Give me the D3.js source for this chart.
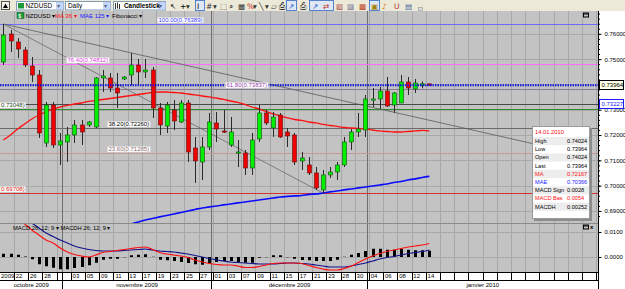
<!DOCTYPE html>
<html><head><meta charset="utf-8">
<script src="https://cdn.jsdelivr.net/npm/d3@7"></script>
<style>
body{margin:0;background:#fff;overflow:hidden}
svg{display:block;font-family:"Liberation Sans",Arial,sans-serif}
</style></head><body>
<div id="chart"></div>
<script>
// ---- data ----
var dates = ["2009-10-20","2009-10-21","2009-10-22","2009-10-23","2009-10-26","2009-10-27","2009-10-28","2009-10-29","2009-10-30",
  "2009-11-02","2009-11-03","2009-11-04","2009-11-05","2009-11-06","2009-11-09","2009-11-10","2009-11-11","2009-11-12","2009-11-13",
  "2009-11-16","2009-11-17","2009-11-18","2009-11-19","2009-11-20","2009-11-23","2009-11-24","2009-11-25","2009-11-26","2009-11-27","2009-11-30",
  "2009-12-01","2009-12-02","2009-12-03","2009-12-04","2009-12-07","2009-12-08","2009-12-09","2009-12-10","2009-12-11",
  "2009-12-14","2009-12-15","2009-12-16","2009-12-17","2009-12-18","2009-12-21","2009-12-22","2009-12-23","2009-12-24",
  "2009-12-28","2009-12-29","2009-12-30","2009-12-31",
  "2010-01-04","2010-01-05","2010-01-06","2010-01-07","2010-01-08","2010-01-11","2010-01-12","2010-01-13","2010-01-14"];

var open = [0.74887,0.75994,0.75678,0.75361,0.74729,0.74373,0.71685,0.73187,0.71606,0.71725,
  0.72002,0.72397,0.72397,0.72318,0.74255,0.74255,0.73859,0.74215,0.74373,0.74768,
  0.74492,0.74571,0.73069,0.72357,0.72990,0.72516,0.73267,0.71488,0.70934,0.71527,
  0.72476,0.72160,0.71606,0.71290,0.71290,0.70697,0.71844,0.72871,0.72278,0.72792,
  0.72120,0.72002,0.70974,0.70816,0.70500,0.69828,0.70421,0.70539,0.70816,0.71725,
  0.72120,0.72199,0.73385,0.73425,0.73741,0.73187,0.73267,0.74097,0.73820,0.73960,
  0.74024];
var high = [0.76389,0.76152,0.75836,0.75480,0.75085,0.74571,0.73306,0.73306,0.72081,0.72318,
  0.72595,0.72595,0.72555,0.74294,0.74571,0.74452,0.74452,0.74334,0.75243,0.75006,
  0.75006,0.74689,0.73267,0.73306,0.73385,0.73385,0.73385,0.71923,0.71923,0.72871,
  0.72911,0.72990,0.72713,0.71804,0.71409,0.72081,0.73187,0.72990,0.72911,0.72871,
  0.72278,0.72081,0.71330,0.71132,0.70737,0.70618,0.70737,0.70934,0.71923,0.72239,
  0.72871,0.73583,0.73859,0.73899,0.74294,0.73701,0.74373,0.74294,0.74215,0.74120,
  0.74024];
var low = [0.74768,0.75282,0.75045,0.74689,0.74097,0.71883,0.71527,0.71488,0.70816,0.70934,
  0.71685,0.71606,0.72318,0.72278,0.73701,0.73701,0.73069,0.74176,0.73978,0.73978,
  0.74255,0.72674,0.72002,0.72081,0.72199,0.72476,0.70934,0.70105,0.70223,0.71409,
  0.71725,0.72081,0.71527,0.70737,0.70421,0.70421,0.71725,0.72397,0.71923,0.71883,
  0.71527,0.70816,0.70618,0.70421,0.69828,0.69708,0.70302,0.70223,0.70737,0.71409,
  0.71923,0.71923,0.73108,0.73029,0.73108,0.72871,0.73267,0.73583,0.73662,0.73850,
  0.73964];
var close = [0.75954,0.75717,0.75401,0.74768,0.74373,0.72081,0.73187,0.71606,0.71765,0.72002,
  0.72397,0.72120,0.72516,0.74255,0.74334,0.73859,0.73662,0.74294,0.74768,0.74492,
  0.74571,0.73069,0.72397,0.73187,0.72555,0.73267,0.71330,0.70974,0.71527,0.72516,
  0.72239,0.72120,0.72120,0.71330,0.70697,0.71804,0.72871,0.72476,0.72713,0.71923,
  0.71962,0.70934,0.71092,0.70500,0.69907,0.70421,0.70539,0.70816,0.71725,0.72120,
  0.72239,0.73425,0.73425,0.73741,0.73148,0.73662,0.74097,0.73859,0.74057,0.74024,
  0.73964];

var ma36 = [0.71804,0.72002,0.72239,0.72436,0.72634,0.72792,0.72911,0.73029,0.73108,0.73168,
  0.73227,0.73266,0.73326,0.73365,0.73405,0.73444,0.73484,0.73523,0.73563,0.73602,
  0.73642,0.73681,0.73701,0.73701,0.73681,0.73662,0.73622,0.73583,0.73543,0.73504,
  0.73464,0.73405,0.73345,0.73286,0.73207,0.73108,0.73029,0.72931,0.72832,0.72753,
  0.72674,0.72614,0.72575,0.72515,0.72476,0.72417,0.72377,0.72338,0.72298,0.72278,
  0.72259,0.72239,0.72199,0.72160,0.72140,0.72120,0.72120,0.72140,0.72160,0.72180,
  0.72167];

var mae125 = [null,null,null,null,null,null,null,null,null,null,null,null,null,null,null,null,
  0.68326,0.68405,0.68484,0.68563,0.68642,0.68701,0.68761,0.68820,0.68879,0.68938,
  0.68998,0.69057,0.69116,0.69156,0.69195,0.69235,0.69274,0.69314,0.69353,0.69393,
  0.69432,0.69472,0.69511,0.69551,0.69571,0.69591,0.69610,0.69650,0.69670,0.69709,
  0.69749,0.69788,0.69828,0.69867,0.69907,0.69946,0.69986,0.70025,0.70065,0.70124,
  0.70164,0.70223,0.70263,0.70322,0.70366];

var macdBase = [0.0208,0.0180,0.0156,0.0132,0.0108,0.0088,0.0068,0.0056,0.0036,0.0020,
  0.0010,0.0004,0.0000,0.0008,0.0018,0.0022,0.0026,0.0030,0.0034,0.0038,
  0.0040,0.0030,0.0018,0.0012,0.0008,0.0004,-0.0002,-0.0012,-0.0020,-0.0026,
  -0.0030,-0.0032,-0.0032,-0.0036,-0.0042,-0.0042,-0.0038,-0.0032,-0.0026,-0.0024,
  -0.0024,-0.0024,-0.0026,-0.0034,-0.0042,-0.0048,-0.0052,-0.0052,-0.0046,-0.0036,
  -0.0022,-0.0008,0.0004,0.0014,0.0022,0.0028,0.0034,0.0040,0.0044,0.0048,
  0.0054];
var macdSignal = [0.0228,0.0204,0.0180,0.0156,0.0136,0.0116,0.0096,0.0082,0.0068,0.0056,
  0.0044,0.0036,0.0030,0.0026,0.0024,0.0024,0.0024,0.0026,0.0028,0.0030,
  0.0032,0.0028,0.0024,0.0022,0.0020,0.0016,0.0012,0.0006,0.0000,-0.0006,
  -0.0012,-0.0016,-0.0020,-0.0022,-0.0024,-0.0026,-0.0028,-0.0028,-0.0028,-0.0026,
  -0.0024,-0.0024,-0.0026,-0.0028,-0.0032,-0.0036,-0.0040,-0.0040,-0.0040,-0.0036,
  -0.0030,-0.0024,-0.0016,-0.0008,-0.0002,0.0002,0.0008,0.0014,0.0018,0.0022,
  0.0028];
var macdHist = [0.0013,0.0013,0.0009,0.0002,-0.0009,-0.0029,-0.0037,-0.0043,-0.0049,-0.0049,
  -0.0044,-0.0040,-0.0033,-0.0023,-0.0011,-0.0007,-0.0007,-0.0001,0.0007,0.0009,
  0.0011,0.0001,-0.0011,-0.0013,-0.0016,-0.0020,-0.0024,-0.0029,-0.0031,-0.0027,
  -0.0020,-0.0017,-0.0016,-0.0020,-0.0023,-0.0023,-0.0003,-0.0001,0.0007,0.0007,
  -0.0001,-0.0007,-0.0012,-0.0013,-0.0016,-0.0016,-0.0016,-0.0011,0.0001,0.0009,
  0.0016,0.0024,0.0033,0.0033,0.0029,0.0029,0.0033,0.0029,0.0027,0.0027,
  0.00252];

// bottom labels, one per two bars (even bars)
var tickLabels = ["2009","22","26","28","","03","05","09","11","13","17","19","23","25","27",
  "01","03","07","09","11","15","17","21","23","28","30","04","06","08","12","14"];
var monthNames = ["octobre 2009","novembre 2009","décembre 2009","janvier 2010"];

var priceTicks = [0.69,0.70,0.71,0.72,0.73,0.74,0.75,0.76];
var macdTicks = [0.0,0.01];

var fibPct = ["100.00","76.40","61.80","50.00","38.20","23.60","0.00"];
var fibPrice = [0.76389,0.74812,0.73837,0.73048,0.72260,0.71285,0.69708];
var fibColor = ["#6c6cff","#ff6cff","#8a7a9a","#2f8a2f","#6a6a6a","#c49a9a","#d83030"];
var fibText = ["#3a3aff","#e040e0","#9a40b0","#1c4c1c","#000","#8a6a6a","#e02020"];

var lastPrice = 0.73964;
var userLine = 0.73227;
var trendA = [0, 0.76389], trendB = [60, 0.72583];   // bar index, price
var fibDiagA = [0, 0.76389], fibDiagB = [45, 0.69708];

// ---- layout ----
var W = 625, H = 289;
var plotR = 598, mainT = 11, mainB = 223, macdT = 224, macdB = 272, dateB = 280;

var svg = d3.select("#chart").append("svg").attr("width", W).attr("height", H);

var x = d3.scalePoint().domain(dates).range([3.4, 3.4 + 7.1 * (dates.length - 1)]);
var step = x.step();
var xi = function (i) { return x(dates[0]) + i * step; };
var y = d3.scaleLinear().domain([0.69708, 0.76389]).range([193, 24]);
var ym = d3.scaleLinear().domain([0, 0.01]).range([257, 232]);

var defs = svg.append("defs");
defs.append("clipPath").attr("id", "cMain").append("rect").attr("x", 0).attr("y", mainT).attr("width", plotR).attr("height", mainB - mainT);
defs.append("clipPath").attr("id", "cMacd").append("rect").attr("x", 0).attr("y", macdT).attr("width", plotR).attr("height", macdB - macdT);

// backgrounds
svg.append("rect").attr("width", W).attr("height", H).attr("fill", "#fff");
svg.append("rect").attr("x", 0).attr("y", 0).attr("width", W).attr("height", mainT).attr("fill", "#ece9d8");
svg.append("rect").attr("x", 0).attr("y", mainT).attr("width", plotR).attr("height", macdB - mainT).attr("fill", "#c3c3c3");

// vertical grid (every two bars, continuing to the right edge)
var gridX = d3.range(0, 86, 2).map(function (i) { return xi(i) - step / 2; }).filter(function (v) { return v > 0 && v < plotR; });
svg.append("g").selectAll("line").data(gridX).join("line")
  .attr("x1", function (d) { return Math.round(d) + 0.5; }).attr("x2", function (d) { return Math.round(d) + 0.5; })
  .attr("y1", mainT).attr("y2", macdB).attr("stroke", "#a8a8a8");

// horizontal grid
svg.append("g").selectAll("line").data(priceTicks).join("line")
  .attr("x1", 0).attr("x2", plotR).attr("y1", function (d) { return Math.round(y(d)) + 0.5; }).attr("y2", function (d) { return Math.round(y(d)) + 0.5; })
  .attr("stroke", "#a8a8a8");
svg.append("g").selectAll("line").data(macdTicks).join("line")
  .attr("x1", 0).attr("x2", plotR).attr("y1", function (d) { return Math.round(ym(d)) + 0.5; }).attr("y2", function (d) { return Math.round(ym(d)) + 0.5; })
  .attr("stroke", "#a8a8a8");

// month boundaries
var monthEnds = [];
dates.forEach(function (d, i) { if (i < dates.length - 1 && d.slice(0, 7) !== dates[i + 1].slice(0, 7)) monthEnds.push(i); });
var monthX = monthEnds.map(function (i) { return Math.round(xi(i) + 2) + 0.5; });
svg.append("g").selectAll("line").data(monthX).join("line")
  .attr("x1", function (d) { return d; }).attr("x2", function (d) { return d; })
  .attr("y1", mainT).attr("y2", H).attr("stroke", "#6e6e6e");

// panel separator
svg.append("line").attr("x1", 0).attr("x2", plotR).attr("y1", mainB + 0.5).attr("y2", mainB + 0.5).attr("stroke", "#8a8a8a");

// ---- main panel ----
var main = svg.append("g").attr("clip-path", "url(#cMain)");

// fibonacci levels + user line
main.selectAll("line.fib").data(fibPrice).join("line").attr("class", "fib")
  .attr("x1", 0).attr("x2", plotR)
  .attr("y1", function (d) { return Math.round(y(d)) + 0.5; }).attr("y2", function (d) { return Math.round(y(d)) + 0.5; })
  .attr("stroke", function (d, i) { return fibColor[i]; }).attr("stroke-width", 1);
main.append("line").attr("x1", 0).attr("x2", plotR).attr("y1", Math.round(y(userLine)) + 0.5).attr("y2", Math.round(y(userLine)) + 0.5)
  .attr("stroke", "#4a4a4a");

// trend lines
function lineAt(a, b, xEnd) {
  var x1 = xi(a[0]), y1 = y(a[1]), x2 = xi(b[0]), y2 = y(b[1]);
  var k = (y2 - y1) / (x2 - x1);
  return [x1, y1, xEnd, y1 + k * (xEnd - x1)];
}
var t1 = lineAt(trendA, trendB, 560);
main.append("line").attr("x1", t1[0]).attr("y1", t1[1]).attr("x2", t1[2]).attr("y2", t1[3]).attr("stroke", "#5a5a5a").attr("stroke-width", 0.8);
var t2 = lineAt(fibDiagA, fibDiagB, xi(fibDiagB[0]));
main.append("line").attr("x1", t2[0]).attr("y1", t2[1]).attr("x2", t2[2]).attr("y2", t2[3]).attr("stroke", "#6a6a6a").attr("stroke-width", 0.8);

// moving averages
var maLine = d3.line().defined(function (d) { return d[1] != null; }).x(function (d) { return x(d[0]); }).y(function (d) { return y(d[1]); }).curve(d3.curveMonotoneX);
main.append("path").datum(dates.map(function (d, i) { return [d, mae125[i]]; })).attr("d", maLine)
  .attr("fill", "none").attr("stroke", "#0a0aff").attr("stroke-width", 1.7);
main.append("path").datum(dates.map(function (d, i) { return [d, ma36[i]]; })).attr("d", maLine)
  .attr("fill", "none").attr("stroke", "#ff1010").attr("stroke-width", 1.3);

// candles
var bars = dates.map(function (d, i) { return { d: d, o: open[i], h: high[i], l: low[i], c: close[i] }; });
var cg = main.append("g");
cg.selectAll("line").data(bars).join("line")
  .attr("x1", function (b) { return Math.round(x(b.d)) + 0.5; }).attr("x2", function (b) { return Math.round(x(b.d)) + 0.5; })
  .attr("y1", function (b) { return y(b.h); }).attr("y2", function (b) { return y(b.l); })
  .attr("stroke", "#2a2a2a");
cg.selectAll("rect").data(bars).join("rect")
  .attr("x", function (b) { return Math.round(x(b.d)) - 1.5; }).attr("width", 4)
  .attr("y", function (b) { return y(Math.max(b.o, b.c)); })
  .attr("height", function (b) { return Math.max(1.2, Math.abs(y(b.o) - y(b.c))); })
  .attr("fill", function (b) { return b.c >= b.o ? "#00f000" : "#f00000"; })
  .attr("stroke", function (b) { return b.c >= b.o ? "#105010" : "#601010"; }).attr("stroke-width", 0.6);

// last price dotted line
main.append("line").attr("x1", 0).attr("x2", plotR).attr("y1", y(lastPrice)).attr("y2", y(lastPrice))
  .attr("stroke", "#1010e0").attr("stroke-width", 2).attr("stroke-dasharray", "1.5,1");

// fibonacci labels (the two left ones only show their price part in the picture)
var labX = [157, 66, 225, null, 107, 107, null];
var fl = svg.append("g").attr("font-size", 6);
fibPrice.forEach(function (p, i) {
  var txt = labX[i] == null ? d3.format(".5f")(p) + ")" : fibPct[i] + "(" + d3.format(".5f")(p) + ")";
  var g = fl.append("g");
  var t = g.append("text").attr("fill", fibText[i]).attr("y", Math.round(y(p)) - 2).text(txt);
  t.attr("x", labX[i] == null ? 1 : labX[i] + 1.5);
  var bb = t.node().getBBox();
  g.insert("rect", "text").attr("x", Math.max(0, bb.x - 1)).attr("y", bb.y + 0.5).attr("width", bb.width + 2).attr("height", bb.height - 0.5)
    .attr("fill", "#fff").attr("stroke", "#d8d8d8").attr("stroke-width", 0.5);
});

// ---- MACD panel ----
var mp = svg.append("g").attr("clip-path", "url(#cMacd)");
mp.selectAll("rect").data(dates).join("rect")
  .attr("x", function (d) { return Math.round(x(d)) - 1; }).attr("width", 3)
  .attr("y", function (d, i) { return Math.min(ym(0), ym(macdHist[i])); })
  .attr("height", function (d, i) { return Math.abs(ym(macdHist[i]) - ym(0)); })
  .attr("fill", "#000");
var mLine = d3.line().x(function (d) { return x(d[0]); }).y(function (d) { return ym(d[1]); }).curve(d3.curveMonotoneX);
mp.append("path").datum(dates.map(function (d, i) { return [d, macdSignal[i]]; })).attr("d", mLine)
  .attr("fill", "none").attr("stroke", "#14148c").attr("stroke-width", 1.2);
mp.append("path").datum(dates.map(function (d, i) { return [d, macdBase[i]]; })).attr("d", mLine)
  .attr("fill", "none").attr("stroke", "#ff1010").attr("stroke-width", 1.2);

svg.append("text").attr("x", 13).attr("y", 229.5).attr("font-size", 5.8).attr("fill", "#000")
  .text("MACD 26; 12; 9 \u25BE   MACDH 26; 12; 9 \u25BE");

// ---- right axes ----
svg.append("rect").attr("x", plotR).attr("y", mainT).attr("width", W - plotR).attr("height", H - mainT).attr("fill", "#fff");
svg.append("line").attr("x1", plotR + 0.5).attr("x2", plotR + 0.5).attr("y1", mainT).attr("y2", H).attr("stroke", "#000");

// labels hidden behind the last-price tag are left out, as in the picture
var shownTicks = priceTicks.filter(function (p) { return Math.abs(y(p) - y(lastPrice)) > 5; });
var ax = svg.append("g").attr("transform", "translate(" + (plotR + 0.5) + ",0)");
ax.append("g").call(d3.axisRight(y).tickValues(d3.range(0.688, 0.7685, 0.002)).tickSize(1.5).tickFormat(""))
  .call(function (g) { g.select(".domain").remove(); });
ax.append("g").call(d3.axisRight(y).tickValues(priceTicks).tickSize(3).tickFormat(""))
  .call(function (g) { g.select(".domain").remove(); });
ax.append("g").call(d3.axisRight(y).tickValues(shownTicks).tickSize(0).tickPadding(6).tickFormat(d3.format(".5f")))
  .call(function (g) { g.select(".domain").remove(); g.selectAll("text").attr("font-size", 6).attr("font-family", "Liberation Sans"); });
ax.append("g").call(d3.axisRight(ym).tickValues(macdTicks).tickSize(3).tickPadding(3).tickFormat(d3.format(".4f")))
  .call(function (g) { g.select(".domain").remove(); g.selectAll("text").attr("font-size", 6).attr("font-family", "Liberation Sans"); });

// price tags on axis
function tag(p, fill, stroke, color) {
  var g = svg.append("g");
  g.append("rect").attr("x", plotR + 1.5).attr("y", Math.round(y(p)) - 4.5).attr("width", 24).attr("height", 9)
    .attr("fill", fill).attr("stroke", stroke).attr("stroke-width", 1);
  g.append("text").attr("x", plotR + 3.5).attr("y", Math.round(y(p)) + 2.2).attr("font-size", 6).attr("fill", color).text(d3.format(".5f")(p));
}
tag(lastPrice, "#ffffe8", "#000", "#000");
tag(userLine, "#fff", "#1a1aff", "#1a1aff");

// ---- bottom date rows ----
svg.append("rect").attr("x", 0).attr("y", macdB).attr("width", plotR).attr("height", H - macdB).attr("fill", "#fff");
svg.append("line").attr("x1", 0).attr("x2", plotR).attr("y1", macdB + 0.5).attr("y2", macdB + 0.5).attr("stroke", "#000");
svg.append("line").attr("x1", 0).attr("x2", plotR).attr("y1", dateB + 0.5).attr("y2", dateB + 0.5).attr("stroke", "#000");
svg.append("g").selectAll("line").data(gridX).join("line")
  .attr("x1", function (d) { return Math.round(d) + 0.5; }).attr("x2", function (d) { return Math.round(d) + 0.5; })
  .attr("y1", macdB).attr("y2", dateB).attr("stroke", "#000");
svg.append("g").selectAll("line").data(monthX).join("line")
  .attr("x1", function (d) { return d; }).attr("x2", function (d) { return d; })
  .attr("y1", macdB).attr("y2", H).attr("stroke", "#000");

var evenDates = dates.filter(function (d, i) { return i % 2 === 0; });
svg.append("g").attr("transform", "translate(1," + (macdB + 1) + ")")
  .call(d3.axisBottom(x).tickValues(evenDates).tickSize(0).tickPadding(1)
    .tickFormat(function (d, i) { return tickLabels[i]; }))
  .call(function (g) {
    g.select(".domain").remove();
    g.selectAll("text").attr("font-size", 6).attr("font-family", "Liberation Sans");
    g.select(".tick text").attr("text-anchor", "start").attr("x", -x(dates[0]) - 0.5);
  });

var bounds = [0].concat(monthX).concat([plotR]);
svg.append("g").selectAll("text").data(monthNames).join("text")
  .attr("x", function (d, i) { return (bounds[i] + bounds[i + 1]) / 2; }).attr("y", 287)
  .attr("text-anchor", "middle").attr("font-size", 6).text(function (d) { return d; });

// ---- info box ----
var last = dates.length - 1;
var f5 = d3.format(".5f"), f4 = d3.format(".4f");
var infoRows = [
  ["High", f5(high[last]), "#000"], ["Low", f5(low[last]), "#000"], ["Open", f5(open[last]), "#000"],
  ["Last", f5(close[last]), "#000"], ["MA", f5(ma36[last]), "#ff1010"], ["MAE", f5(mae125[last]), "#1a1aff"],
  ["MACD Sign", f4(macdSignal[last]), "#000"], ["MACD Bas", f4(macdBase[last]), "#ff1010"], ["MACDH", f5(macdHist[last]), "#000"]];
var ib = svg.append("g").attr("transform", "translate(532,126)");
ib.append("rect").attr("x", 2).attr("y", 2).attr("width", 58).attr("height", 93).attr("fill", "#8c8c8c");
ib.append("rect").attr("x", 0.5).attr("y", 0.5).attr("width", 57).attr("height", 92).attr("fill", "#fff").attr("stroke", "#9a9a9a");
var dp = dates[last].split("-");
ib.append("text").attr("x", 3).attr("y", 7.5).attr("font-size", 5.8).attr("fill", "#ff1010").text(dp[2] + "." + dp[1] + "." + dp[0]);
infoRows.forEach(function (r, i) {
  var ry = 11 + i * 8.2;
  if (i % 2 === 0) ib.append("rect").attr("x", 1).attr("y", ry).attr("width", 56).attr("height", 8.2).attr("fill", "#ededed");
  ib.append("text").attr("x", 3).attr("y", ry + 6).attr("font-size", 5.6).attr("fill", r[2]).text(r[0]);
  ib.append("text").attr("x", 35).attr("y", ry + 6).attr("font-size", 5.6).attr("fill", r[2]).text(r[1]);
});

// ---- panel corner icons ----
function winIcons(yy, withX) {
  svg.append("rect").attr("x", 583.5).attr("y", yy - 3.5).attr("width", 5).attr("height", 4).attr("fill", "none").attr("stroke", "#000");
  svg.append("line").attr("x1", 583.5).attr("x2", 588.5).attr("y1", yy - 2.5).attr("y2", yy - 2.5).attr("stroke", "#000");
  if (withX) svg.append("text").attr("x", 590).attr("y", yy + 0.8).attr("font-size", 6).attr("font-weight", "bold").text("x");
}
winIcons(16.5, false);
winIcons(228.5, true);

// ---- legend row ----
var lg = svg.append("g").attr("font-size", 6);
lg.append("rect").attr("x", 17).attr("y", 12.5).attr("width", 7).attr("height", 6).attr("fill", "#1e9a3a").attr("stroke", "#0c5a1c").attr("stroke-width", 0.5);
lg.append("text").attr("x", 18.3).attr("y", 17.6).attr("font-size", 5).attr("fill", "#fff").attr("font-weight", "bold").text("$");
lg.append("text").attr("x", 25.5).attr("y", 18).attr("fill", "#000").text("NZDUSD \u25BE");
lg.append("text").attr("x", 55).attr("y", 18).attr("fill", "#ff1010").text("MA 36 \u25BE");
lg.append("text").attr("x", 80).attr("y", 18).attr("fill", "#1a1aff").text("MAE 125 \u25BE");
lg.append("text").attr("x", 112).attr("y", 18).attr("fill", "#000").text("Fibonacci \u25BE");

// ---- toolbar ----
var tb = svg.append("g").attr("font-size", 6.4);
function combo(x0, w, label, bold) {
  tb.append("rect").attr("x", x0 + 0.5).attr("y", 1.5).attr("width", w).attr("height", 8.5).attr("fill", "#fff").attr("stroke", "#7f9db9");
  tb.append("rect").attr("x", x0 + w - 6.5).attr("y", 2).attr("width", 7).attr("height", 7.5).attr("fill", "#c6d6fb").attr("stroke", "#a8bce8").attr("stroke-width", 0.5);
  tb.append("text").attr("x", x0 + w - 5.6).attr("y", 8).attr("font-size", 6).attr("fill", "#4d6185").text("\u25BE");
  tb.append("text").attr("x", x0 + (bold ? 11 : 3)).attr("y", 8.2).attr("font-weight", bold ? "bold" : "normal").attr("fill", "#000").text(label);
}
tb.append("rect").attr("x", 1.5).attr("y", 1.5).attr("width", 8).attr("height", 8).attr("fill", "#f4f3ee").attr("stroke", "#555");
tb.append("path").attr("d", "M3,8 L5.5,3.5 L8,8 Z").attr("fill", "#000");
combo(16, 47, "", false);
tb.append("rect").attr("x", 18).attr("y", 3).attr("width", 6).attr("height", 5.5).attr("fill", "#1e9a3a");
tb.append("text").attr("x", 25.5).attr("y", 8.2).attr("fill", "#000").text("NZDUSD");
combo(65, 45, "Daily", false);
combo(113, 52, "Candlestick", true);
tb.append("path").attr("d", "M115.5,3 V9 M117.5,2.5 V8.5 M119.5,4 V9").attr("stroke", "#000").attr("stroke-width", 0.8);

var icons = [
  [170, "\u2196", "#000"], [180, "+", "#000"], [186, "\u25BE", "#333"], [197, "I", "#000"], [206, "#", "#333"], [213, "\u25BE", "#333"],
  [220, "\u2B1A", "#333"], [229, "\u2315", "#333"], [238, "\u25A6", "#333"], [247, "%", "#c02020"], [253, "\u25BE", "#333"],
  [259, "\u2572", "#333"], [265, "\u25BE", "#333"], [271, "\u25B1", "#333"], [279, "\u2399", "#333"], [288, "\u2197", "#1a5ad0"],
  [300, "\u2399", "#444"], [312, "\u2197", "#1a5ad0"], [323, "\u21C4", "#c03020"], [336, "\u25A7", "#b05050"], [347, "\u25A8", "#707090"],
  [359, "\u25A9", "#c04020"], [371, "\u25A3", "#a08000"], [382, "\u266A", "#d08000"], [394, "U", "#b03030"], [405, "\u25A4", "#4060a0"]];
[[195, 9], [286, 10], [309, 24], [369, 10]].forEach(function (h) {
  tb.append("rect").attr("x", h[0] + 0.5).attr("y", 0.5).attr("width", h[1]).attr("height", 10).attr("fill", "#dfe6f4").attr("stroke", "#316ac5").attr("stroke-width", 0.8);
});
tb.selectAll("text.ic").data(icons).join("text").attr("class", "ic")
  .attr("x", function (d) { return d[0]; }).attr("y", 8.5).attr("font-family", "DejaVu Sans").attr("font-size", 7.5)
  .attr("fill", function (d) { return d[2]; }).text(function (d) { return d[1]; });
tb.append("rect").attr("x", 418.5).attr("y", 7.5).attr("width", 4).attr("height", 3).attr("fill", "#ddd").attr("stroke", "#888").attr("stroke-width", 0.5);
</script>
</body></html>
